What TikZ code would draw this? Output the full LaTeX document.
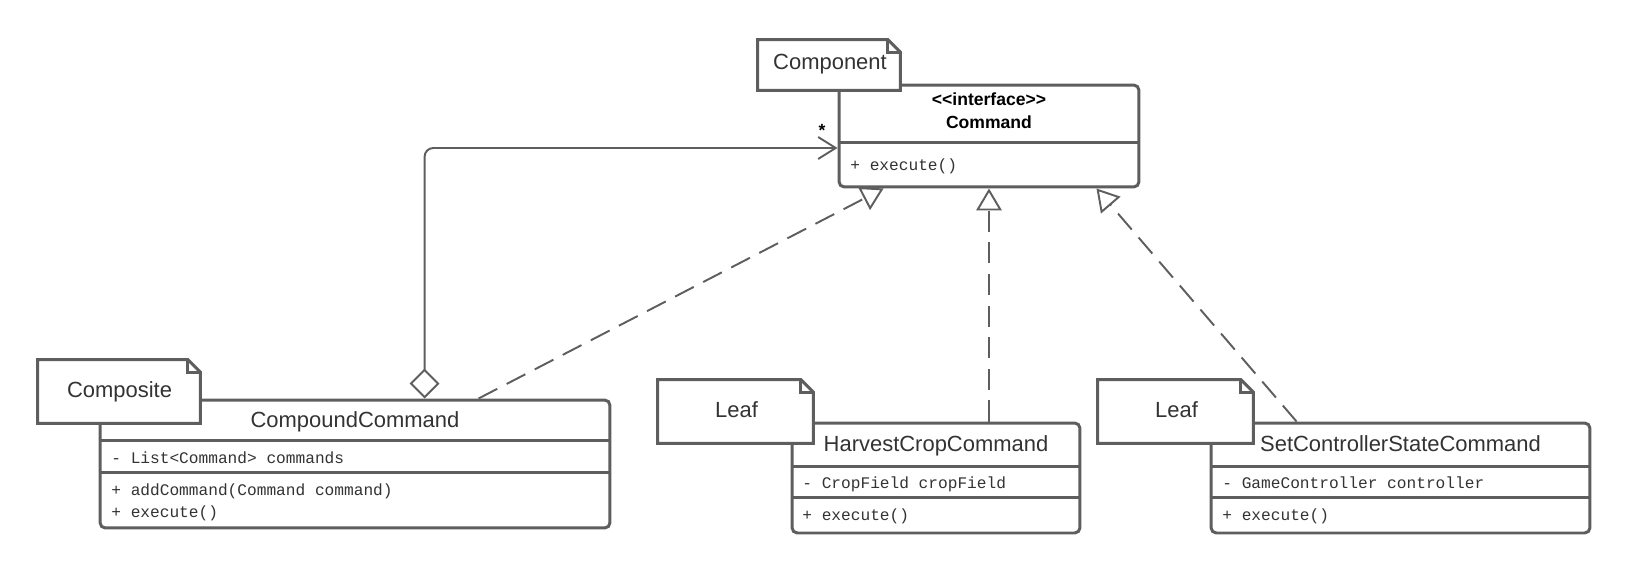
\documentclass[tikz,border=0pt]{standalone}
\usepackage{fontspec}
\setmainfont{Liberation Sans}
\setmonofont{Liberation Mono}
\usepackage{xcolor}
\usetikzlibrary{positioning}
\usetikzlibrary{arrows.meta}
\usetikzlibrary{calc}
\definecolor{umlline}{HTML}{5E5E5E}
\definecolor{umltext}{HTML}{333333}
\tikzset{classbox/.style={draw=umlline, line width=1.7pt, rounded corners=3pt,
fill=white, inner sep=0pt},
notebox/.style={fill=white, inner sep=0pt},
notepath/.style={draw=umlline, line width=1.7pt, line join=miter},
divider/.style={draw=umlline, line width=1.7pt},
classname/.style={anchor=base, inner sep=0pt, text=umltext, font=\fontsize{12.5}{15}\selectfont},
stereo/.style={anchor=base, inner sep=0pt, text=black, font=\bfseries\fontsize{10}{12}\selectfont},
member/.style={anchor=base west, inner sep=0pt, text=umltext, font=\ttfamily\fontsize{9.2}{11}\selectfont},
realize/.style={draw=umlline, line width=1.1pt, dash pattern=on 12pt off 6pt,
-{Triangle[open, length=12.5pt, width=14.5pt, line width=1.1pt]}},
aggr/.style={draw=umlline, line width=1.1pt, rounded corners=5pt,
{Diamond[open, length=17pt, width=17pt, line width=1.1pt]}-{Straight Barb[length=10pt, width=12.5pt, line width=1.1pt]}}}

\begin{document}
\begin{tikzpicture}[x=0.02cm, y=-0.02cm]

				\fill[white] (0,0) rectangle (1629,571);

				% the classes
				\node[classbox, minimum width=6cm, minimum height=2.04cm] (command) at (989,136) {};
				\node[classbox, minimum width=10.2cm, minimum height=2.56cm] (compound) at (355,464) {};
				\node[classbox, minimum width=5.76cm, minimum height=2.2cm] (harvest) at (936,478) {};
				\node[classbox, minimum width=7.58cm, minimum height=2.2cm] (setctrl) at (1400.5,478) {};
				\draw[divider] ($(command.north west)+(0,59)$) -- ($(command.north east)+(0,59)$);
				\foreach \c/\a/\b in {compound/42/74, harvest/45/76, setctrl/45/76}{
					\draw[divider] ($(\c.north west)+(0,\a)$) -- ($(\c.north east)+(0,\a)$);
					\draw[divider] ($(\c.north west)+(0,\b)$) -- ($(\c.north east)+(0,\b)$);
				}

				% the notes
				\node[notebox, minimum width=2.84cm, minimum height=1cm] (component) at (829,65) {};
				\node[notebox, minimum width=3.24cm, minimum height=1.26cm] (composite) at (119,391.5) {};
				\node[notebox, minimum width=3.1cm, minimum height=1.26cm] (leafa) at (735.5,411.5) {};
				\node[notebox, minimum width=3.1cm, minimum height=1.26cm] (leafb) at (1175.5,411.5) {};
				\foreach \n in {component, composite, leafa, leafb}{
					\draw[notepath] (\n.south west) -- (\n.north west) -- ([xshift=-0.25cm]\n.north east)
						-- ([yshift=-0.25cm]\n.north east) -- (\n.south east) -- cycle;
					\draw[notepath] ([xshift=-0.25cm]\n.north east) |- ([yshift=-0.25cm]\n.north east);
				}

				% texts
				\node[classname] (componenttxt) at (830,70) {Component};
				\node[classname] (compositetxt) at (119.5,397) {Composite};
				\node[classname] (leafatxt) at (736.5,417) {Leaf};
				\node[classname] (leafbtxt) at (1176.5,417) {Leaf};
				\node[stereo] (cmdstereo) at (989,106) {{<}{<}interface{>}{>}};
				\node[stereo] (cmdname) at (989,129) {Command};
				\node[member] (cmdop) at (850,171) {+ execute()};
				\node[classname] (compoundname) at (355,427) {CompoundCommand};
				\node[member] (compoundattr) at (111,463) {- List<Command> commands};
				\node[member] (compoundopa) at (111,495) {+ addCommand(Command command)};
				\node[member] (compoundopb) at (111,517) {+ execute()};
				\node[classname] (harvestname) at (936,451) {HarvestCropCommand};
				\node[member] (harvestattr) at (802,488) {- CropField cropField};
				\node[member] (harvestop) at (802,520) {+ execute()};
				\node[classname] (setctrlname) at (1400.5,451) {SetControllerStateCommand};
				\node[member] (setctrlattr) at (1222,488) {- GameController controller};
				\node[member] (setctrlop) at (1222,520) {+ execute()};

				% connectors
				\coordinate (aggfrom) at ($(compound.north west)+(326,0)$);
				\coordinate (aggto) at ($(command.west)+(0,12)$);
				\draw[aggr] (aggfrom) |- (aggto);
				\node[stereo, anchor=center] (mult) at (822,130) {*};
				\draw[realize] ($(compound.north west)+(380,0)$) -- ($(command.south west)+(46,0)$);
				\draw[realize] (harvest.north -| command.south) -- (command.south);
				\draw[realize] ($(setctrl.north west)+(87,0)$) -- ($(command.south east)+(-44,0)$);
			\end{tikzpicture}
\end{document}
